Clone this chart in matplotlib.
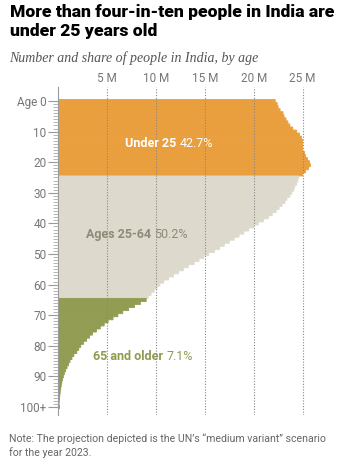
import matplotlib.pyplot as plt
import numpy as np

# population by single year of age, in millions
under25 = [22.2, 22.4, 22.5, 22.7, 23.0, 23.1, 23.3, 23.5, 23.7, 24.0,
           24.4, 24.7, 24.9, 25.0, 25.0, 25.0, 25.0, 25.2, 25.3, 25.5,
           25.7, 25.8, 25.6, 25.3, 25.0]
ages25_64 = [24.6, 24.5, 24.4, 24.2, 24.1, 23.9, 23.7, 23.4, 23.2, 22.9,
             22.6, 22.3, 21.9, 21.5, 21.0, 20.5, 20.0, 19.5, 19.0, 18.5,
             18.0, 17.5, 17.0, 16.5, 16.0, 15.4, 14.9, 14.4, 13.9, 13.3,
             12.8, 12.3, 11.8, 11.3, 10.8, 10.4, 10.1, 9.8, 9.5, 9.2]
ages65 = [9.0, 8.4, 7.8, 7.2, 6.6, 6.1, 5.6, 5.1, 4.7, 4.3,
          3.9, 3.5, 3.2, 2.9, 2.6, 2.3, 2.1, 1.9, 1.6, 1.4,
          1.2, 1.05, 0.9, 0.75, 0.62, 0.52, 0.43, 0.36, 0.3, 0.25,
          0.2, 0.16, 0.13, 0.1, 0.08, 0.12]

group_labels = ['Under 25', 'Ages 25-64', '65 and older']
group_shares = ['42.7%', '50.2%', '7.1%']

ytick_ages = [0, 10, 20, 30, 40, 50, 60, 70, 80, 90, 100]
ytick_labels = ['Age 0', '10', '20', '30', '40', '50', '60', '70', '80', '90', '100+']
xticks = [5, 10, 15, 20, 25]
xtick_labels = ['5 M', '10 M', '15 M', '20 M', '25 M']

orange = '#EA9F3E'
beige = '#DDDACD'
green = '#929C52'

fig = plt.figure(figsize=(3.51, 4.61), dpi=100)
fig.patch.set_facecolor('white')
ax = fig.add_axes([0.166, 0.0998, 0.7795, 0.7104])

starts = [0, 25, 65]
series = [under25, ages25_64, ages65]
colors = [orange, beige, green]
for start, vals, c in zip(starts, series, colors):
    ages = np.arange(start, start + len(vals))
    ax.barh(ages, vals, height=1.0, color=c, edgecolor=c, linewidth=0.6,
            snap=False, zorder=1)

ax.set_xlim(0, 28)
ax.set_ylim(102.6, -4.4)

ax.set_xticks(xticks, xtick_labels)
ax.xaxis.tick_top()
ax.tick_params(axis='x', length=0, pad=2, labelsize=8.5, labelcolor='#777777')
for lab in ax.get_xticklabels():
    lab.set_family('Roboto')

ax.set_yticks(ytick_ages, ytick_labels)
ax.set_yticks(np.arange(0, 101), minor=True)
ax.tick_params(axis='y', which='major', length=7, width=0.8, color='#999999',
               pad=1.5, labelsize=8.5, labelcolor='#777777')
ax.tick_params(axis='y', which='minor', length=3.6, width=0.6, color='#aaaaaa')
for lab in ax.get_yticklabels():
    lab.set_family('Roboto')

for s in ['top', 'right', 'bottom']:
    ax.spines[s].set_visible(False)
ax.spines['left'].set_color('#999999')
ax.spines['left'].set_linewidth(0.8)

ax.set_axisbelow(False)
ax.grid(axis='x', linestyle=(0, (1, 1.5)), color='#888888', linewidth=0.8)
ax.grid(axis='y', visible=False)

# group labels: bold name followed by regular share
label_pos = [(6.83, 13.9), (2.8, 43.5), (3.55, 83.5)]
label_colors = ['white', '#8C8B77', '#8E9A4E']
for name, share, (x, y), c in zip(group_labels, group_shares, label_pos, label_colors):
    t = ax.text(x, y, name + ' ', fontsize=9, fontweight='bold', color=c,
                family='Roboto', va='center', ha='left', zorder=5)
    ax.annotate(share, xy=(1, 0), xycoords=t, fontsize=9, color=c,
                family='Roboto', va='bottom', ha='left', zorder=5)

fig.text(10 / 351, 1 - 3.5 / 461,
         'More than four-in-ten people in India are\nunder 25 years old',
         fontsize=12.6, fontweight='heavy', family='Roboto', color='black',
         va='top', ha='left', linespacing=1.3)
fig.text(9 / 351, 1 - 58 / 461, 'Number and share of people in India, by age',
         fontsize=10, style='italic', family='Liberation Serif', color='#555555',
         va='center', ha='left')
fig.text(9 / 351, 1 - 445.5 / 461,
         'Note: The projection depicted is the UN\u2019s \u201cmedium variant\u201d scenario\nfor the year 2023.',
         fontsize=7.6, family='Roboto', color='#666666', va='center', ha='left',
         linespacing=1.35)

fig.savefig('out.png', dpi=100)
